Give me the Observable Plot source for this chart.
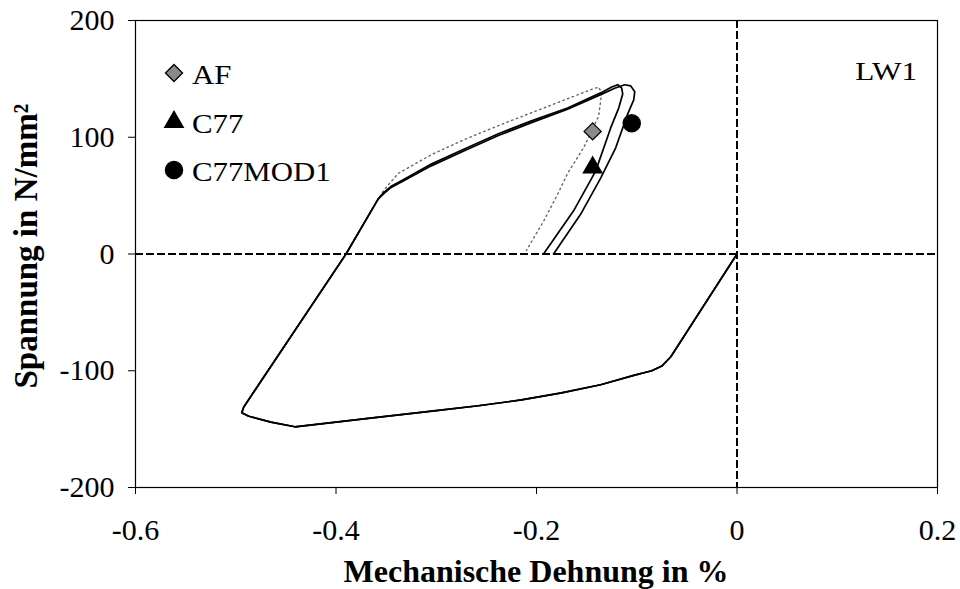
<!DOCTYPE html>
<html>
<head>
<meta charset="utf-8">
<script src="https://cdn.jsdelivr.net/npm/d3@7"></script>
<script src="https://cdn.jsdelivr.net/npm/@observablehq/plot@0.6"></script>
<style>
  body { margin: 0; background: #fff; }
  #chart { position: relative; width: 960px; height: 589px; }
  #chart svg { position: absolute; left: 0; top: 0; }
</style>
</head>
<body>
<div id="chart"></div>
<script>
const SERIF = "'Liberation Serif', 'Times New Roman', serif";

// Axis ticks
const xTicks = [-0.6, -0.4, -0.2, 0, 0.2];
const yTicks = [200, 100, 0, -100, -200];

// Shared part of the hysteresis loop: compression branch and reloading up to the knee
const loopStrain = [0, -0.066, -0.075, -0.085, -0.103, -0.136, -0.175, -0.215, -0.258, -0.298, -0.37, -0.441, -0.465, -0.487, -0.494, -0.492, -0.39, -0.358];
const loopStress = [0, -88, -96, -100, -104, -112, -119, -125, -130, -134, -141, -148, -144, -139, -136, -131, 0, 47];

// Tension branch and unloading for each model
const afStrain = [-0.352, -0.338, -0.305, -0.272, -0.235, -0.205, -0.169, -0.145, -0.138, -0.135, -0.138, -0.153, -0.169, -0.179, -0.193, -0.202, -0.21];
const afStress = [55, 69, 85, 98, 111, 121, 133, 141, 143, 138, 118, 91, 69, 51, 28, 15, 3];

const c77Strain = [-0.352, -0.345, -0.332, -0.305, -0.272, -0.238, -0.205, -0.169, -0.136, -0.125, -0.119, -0.115, -0.114, -0.118, -0.126, -0.141, -0.163, -0.193];
const c77Stress = [53, 58, 64, 77, 90, 103, 114, 125, 138, 143, 145, 142, 137, 125, 108, 71, 37, 0];

const modStrain = [-0.352, -0.345, -0.332, -0.305, -0.272, -0.238, -0.205, -0.169, -0.136, -0.122, -0.112, -0.106, -0.102, -0.103, -0.109, -0.121, -0.136, -0.156, -0.183];
const modStress = [52, 57, 63, 75.5, 88.5, 101.5, 112.5, 124, 136.5, 142, 145, 144, 139, 132, 120, 91, 65, 34, 0];

// Marked points
const seriesNames = ["AF", "C77", "C77MOD1"];
const markerStrain = [-0.144, -0.144, -0.105];
const markerStress = [105, 74, 112];

const toRows = (xs, ys) => xs.map((x, i) => ({strain: x, stress: ys[i]}));
const afData = toRows(loopStrain.concat(afStrain), loopStress.concat(afStress));
const c77Data = toRows(loopStrain.concat(c77Strain), loopStress.concat(c77Stress));
const modData = toRows(loopStrain.concat(modStrain), loopStress.concat(modStress));
const markers = seriesNames.map((name, i) => ({name, strain: markerStrain[i], stress: markerStress[i]}));

// Square standing on its corner
const diamond = {
  draw(context, size) {
    const s = Math.sqrt(size / 2);
    context.moveTo(0, -s);
    context.lineTo(s, 0);
    context.lineTo(0, s);
    context.lineTo(-s, 0);
    context.closePath();
  }
};

const styles = {
  AF: {symbol: diamond, r: 6.8, fill: "#8a8a8a"},
  C77: {symbol: "triangle", r: 6.9, fill: "#000"},
  C77MOD1: {symbol: "circle", r: 8.6, fill: "#000"}
};

const fmt = d => String(d);

const plot = Plot.plot({
  width: 960,
  height: 589,
  marginLeft: 135,
  marginRight: 23,
  marginTop: 20,
  marginBottom: 102,
  style: {fontFamily: SERIF, fontSize: "30px", color: "#000", background: "transparent", overflow: "visible"},
  x: {domain: [-0.6, 0.2], ticks: xTicks, tickFormat: fmt, tickSize: 7, tickPadding: 24, label: null, line: true},
  y: {domain: [-200, 200], ticks: yTicks, tickFormat: fmt, tickSize: 7, tickPadding: 14, label: null, line: true},
  marks: [
    Plot.frame({stroke: "#000", strokeWidth: 1.2}),
    Plot.ruleY([0], {stroke: "#000", strokeWidth: 2, strokeDasharray: "8,3"}),
    Plot.ruleX([0], {stroke: "#000", strokeWidth: 2, strokeDasharray: "8,3"}),
    Plot.line(afData, {x: "strain", y: "stress", stroke: "#666", strokeWidth: 1.4, strokeDasharray: "1.5,3.5"}),
    Plot.line(c77Data, {x: "strain", y: "stress", stroke: "#000", strokeWidth: 1.7}),
    Plot.line(modData, {x: "strain", y: "stress", stroke: "#000", strokeWidth: 1.7}),
    ...seriesNames.map(name => Plot.dot(markers.filter(d => d.name === name), {
      x: "strain", y: "stress", symbol: styles[name].symbol, r: styles[name].r,
      fill: styles[name].fill, stroke: "#000", strokeWidth: 1.3
    }))
  ]
});

const chart = document.getElementById("chart");
chart.appendChild(plot);

// Tick labels: serif face
d3.select(plot).selectAll("text")
  .style("font-family", SERIF)
  .style("font-size", "30px")
  .style("fill", "#000");

// Widen an overlay text horizontally about its anchor point
function widen(sel, k) {
  sel.each(function() {
    const el = d3.select(this);
    const x = +(el.attr("x") || 0);
    const y = +(el.attr("y") || 0);
    el.attr("x", null).attr("y", null)
      .attr("transform", `translate(${x},${y}) scale(${k},1)`);
  });
}

// Overlay: axis titles, legend and panel label
const overlay = d3.select(chart).append("svg")
  .attr("width", 960).attr("height", 589)
  .style("pointer-events", "none")
  .style("font-family", SERIF);

overlay.append("text")
  .attr("x", 536).attr("y", 582)
  .attr("text-anchor", "middle")
  .style("font-family", SERIF)
  .attr("font-size", 32).attr("font-weight", "bold")
  .text("Mechanische Dehnung in %");

overlay.append("text")
  .attr("transform", "translate(37,246) rotate(-90)")
  .attr("text-anchor", "middle")
  .style("font-family", SERIF)
  .attr("font-size", 33).attr("font-weight", "bold")
  .text("Spannung in N/mm²");

const lw = overlay.append("text")
  .attr("x", 917).attr("y", 80)
  .attr("text-anchor", "end")
  .style("font-family", SERIF)
  .attr("font-size", 25)
  .text("LW1");
widen(lw, 1.25);

const legend = overlay.append("g").attr("transform", "translate(174,0)");
const rowY = [73, 122, 170];
seriesNames.forEach((name, i) => {
  const st = styles[name];
  const sym = typeof st.symbol === "string"
    ? (st.symbol === "triangle" ? d3.symbolTriangle : d3.symbolCircle)
    : st.symbol;
  legend.append("path")
    .attr("transform", `translate(0,${rowY[i]})`)
    .attr("d", d3.symbol(sym, Math.PI * st.r * st.r)())
    .attr("fill", st.fill).attr("stroke", "#000").attr("stroke-width", 1.3);
  const t = legend.append("text")
    .attr("x", 18).attr("y", rowY[i] + 11)
    .style("font-family", SERIF)
    .attr("font-size", 28)
    .text(name);
  widen(t, 1.1);
});
</script>
</body>
</html>
